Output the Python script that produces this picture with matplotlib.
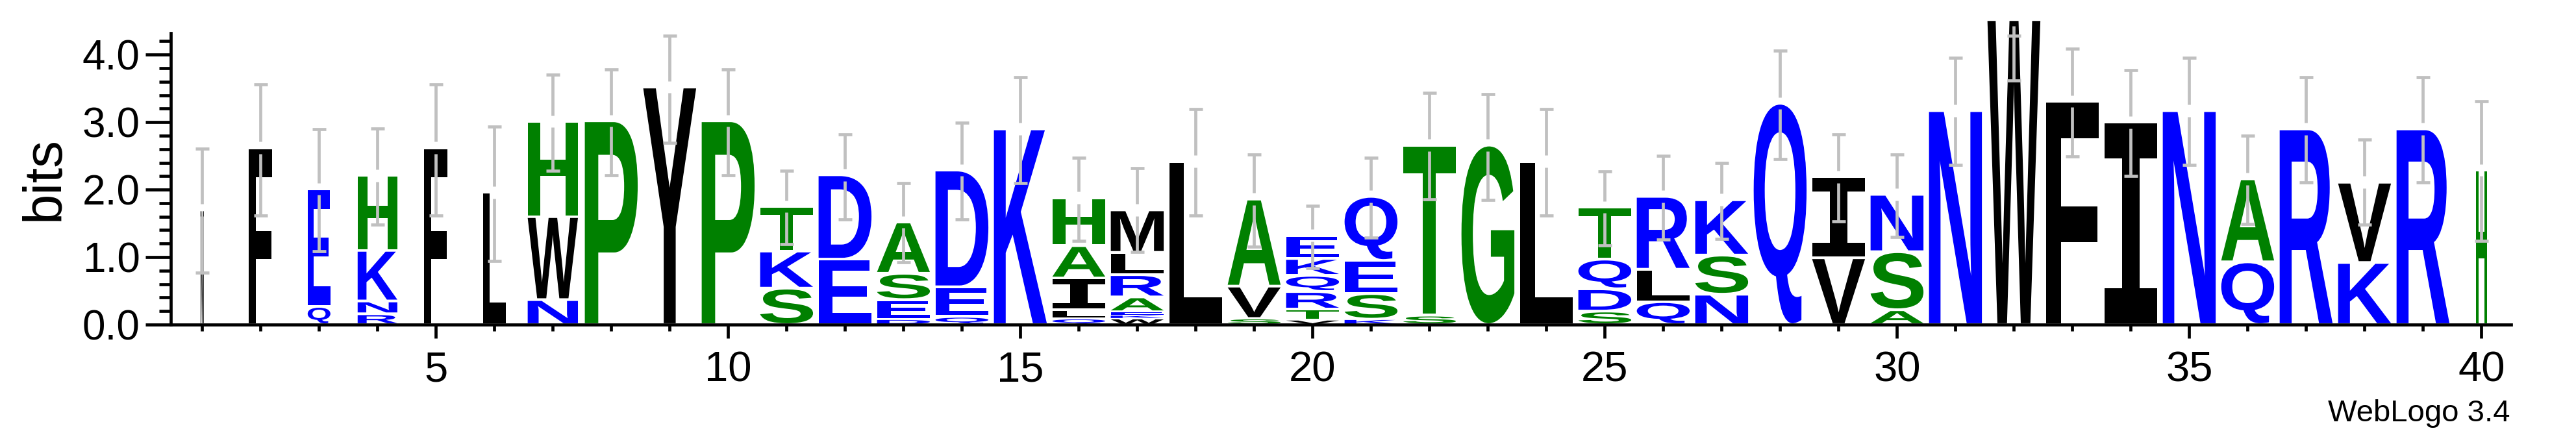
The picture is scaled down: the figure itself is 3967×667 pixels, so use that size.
import matplotlib
matplotlib.use("Agg")
import matplotlib.pyplot as plt
from matplotlib.textpath import TextPath
from matplotlib.patches import PathPatch
from matplotlib.font_manager import FontProperties
from matplotlib.transforms import Affine2D

plt.rcParams['font.family'] = ['Liberation Sans', 'DejaVu Sans']

# sequence logo data, letters listed bottom -> top
positions = list(range(1, 41))
stack_letters = ["M", "F", "QE", "RNKH", "F", "L", "NWH", "P", "Y", "P",
                 "SKT", "ED", "DESA", "QED", "K", "QLIAH", "WKEARLM", "L", "SVA", "VTRQKE",
                 "KSEQ", "ST", "G", "L", "SDQT", "QLR", "NSK", "Q", "VI", "ASN",
                 "N", "W", "F", "I", "N", "QA", "R", "KV", "R", "H"]
stack_heights = [
    [1.70], [2.62], [0.27, 1.74], [0.16, 0.19, 0.75, 1.11], [2.62],
    [1.96], [0.37, 1.23, 1.41], [3.02], [3.52], [3.02],
    [0.54, 0.55, 0.66], [0.97, 1.25], [0.08, 0.29, 0.39, 0.76], [0.12, 0.44, 1.73], [2.90],
    [0.09, 0.13, 0.47, 0.48, 0.71], [0.09, 0.05, 0.05, 0.22, 0.33, 0.33, 0.63], [2.42],
    [0.09, 0.48, 1.29], [0.07, 0.16, 0.26, 0.24, 0.25, 0.34],
    [0.08, 0.38, 0.49, 0.95], [0.14, 2.52], [2.66], [2.42], [0.20, 0.33, 0.44, 0.77],
    [0.34, 0.48, 1.08], [0.45, 0.58, 0.82], [3.28], [0.99, 1.20], [0.22, 0.86, 0.85],
    [3.17], [4.52], [3.31], [3.00], [3.17],
    [0.93, 1.23], [2.90], [0.92, 1.19], [2.90], [2.29],
]
# fraction of full stack width (gapped columns are drawn narrower)
stack_widths = [0.06, 0.44, 0.43, 0.75, 0.44, 0.43, 0.95] + [1.0] * 32 + [0.20]
# error bar ends (bits)
err_low = [0.77, 1.62, 1.09, 1.48, 1.62, 0.94, 2.28, 2.21, 2.69, 2.21,
           1.19, 1.56, 0.92, 1.56, 2.10, 1.24, 1.08, 1.62, 1.15, 0.84,
           1.285, 1.86, 1.85, 1.62, 1.17, 1.26, 1.27, 2.455, 1.53, 1.30,
           2.37, 3.62, 2.49, 2.20, 2.37, 1.49, 2.11, 1.48, 2.11, 1.24]
err_high = [2.61, 3.56, 2.90, 2.91, 3.56, 2.93, 3.70, 3.78, 4.28, 3.78,
            2.28, 2.82, 2.10, 2.99, 3.67, 2.47, 2.32, 3.19, 2.52, 1.76,
            2.47, 3.43, 3.42, 3.19, 2.27, 2.50, 2.40, 4.06, 2.82, 2.52,
            3.95, 4.28, 4.09, 3.77, 3.95, 2.80, 3.67, 2.74, 3.67, 3.31]

colors = {}
for c in "RKDENQ":
    colors[c] = "#0000ff"
for c in "SGHTAP":
    colors[c] = "#008000"
for c in "YVMCLFIW":
    colors[c] = "#000000"

font_main = FontProperties(family="Liberation Sans", weight="bold")
font_i = FontProperties(family="DejaVu Sans Mono", weight="bold")


def draw_letter(ax, ch, x, y0, w, h):
    prop = font_i if ch == "I" else font_main
    tp = TextPath((0, 0), ch, size=1, prop=prop)
    bb = tp.get_extents()
    pad = min(0.02, h * 0.15)
    hh = h - 2 * pad
    tr = Affine2D().translate(-bb.x0, -bb.y0).scale(w / bb.width, hh / bb.height)
    tr = tr.translate(x - w / 2, y0 + pad)
    ax.add_patch(PathPatch(tr.transform_path(tp), facecolor=colors[ch],
                           edgecolor="none", lw=0, clip_on=False, zorder=2))


fig = plt.figure(figsize=(39.67, 6.67), dpi=100)
ax = fig.add_axes([0.0663, 0.2504, 0.9085, 0.6732])

full_w = 0.905
gap = 0.09
cap = 0.117
for p, letters, heights, wf, lo, hi in zip(positions, stack_letters, stack_heights,
                                           stack_widths, err_low, err_high):
    y = 0.0
    for ch, h in zip(letters, heights):
        draw_letter(ax, ch, p, y, full_w * wf, h)
        y += h
    kw = dict(color="#c0c0c0", lw=3.4, solid_capstyle="butt", clip_on=False, zorder=3)
    # bar is broken just around the stack top
    ax.plot([p, p], [lo, y - gap], **kw)
    if hi > y + gap:
        ax.plot([p, p], [y + gap, hi], **kw)
    ax.plot([p - cap, p + cap], [hi, hi], **kw)
    ax.plot([p - cap, p + cap], [lo, lo], **kw)

ax.set_xlim(0.4633, 40.507)
ax.set_ylim(0, 4.32)
for s in ["top", "right"]:
    ax.spines[s].set_visible(False)
for s in ["left", "bottom"]:
    ax.spines[s].set_linewidth(3.4)

ax.set_yticks([0, 1, 2, 3, 4])
ax.set_yticklabels(["0.0", "1.0", "2.0", "3.0", "4.0"])
ax.set_yticks([i * 0.2 for i in range(22)], minor=True)
ax.set_xticks([5, 10, 15, 20, 25, 30, 35, 40])
ax.set_xticks(positions, minor=True)
ax.tick_params(axis="y", which="major", length=28, width=3.4, labelsize=46, pad=6)
ax.tick_params(axis="y", which="minor", length=13, width=3.4)
ax.tick_params(axis="x", which="major", length=15, width=3.4, labelsize=47, pad=14)
ax.tick_params(axis="x", which="minor", length=7, width=3.4)

fig.text(0.0174, 0.5877, "bits", rotation=90, ha="center", va="center", fontsize=60)
fig.text(0.9743, 0.027, "WebLogo 3.4", ha="right", va="baseline", fontsize=34)

fig.savefig("out.png", dpi=100)
